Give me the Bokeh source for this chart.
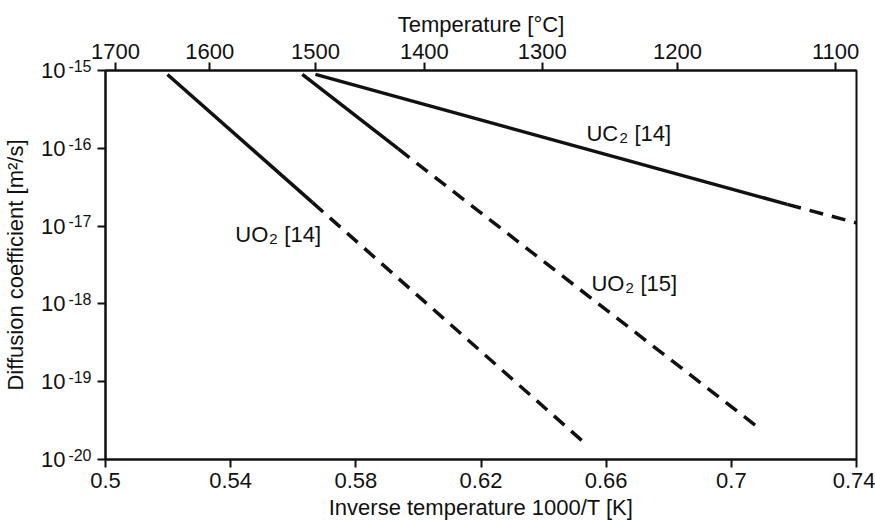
from bokeh.plotting import figure
from bokeh.models import Range1d, LinearAxis, LogAxis, FixedTicker, Label
from bokeh.embed import file_html
from bokeh.resources import INLINE

# ---------------- data ----------------
inv_T_ticks = [0.5, 0.54, 0.58, 0.62, 0.66, 0.7, 0.74]
inv_T_tick_labels = ["0.5", "0.54", "0.58", "0.62", "0.66", "0.7", "0.74"]

D_ticks = [1e-20, 1e-19, 1e-18, 1e-17, 1e-16, 1e-15]
D_tick_base = ["10", "10", "10", "10", "10", "10"]
D_tick_exponents = ["-20", "-19", "-18", "-17", "-16", "-15"]

temp_C_labels = ["1700", "1600", "1500", "1400", "1300", "1200", "1100"]
temp_tick_pos = [0.5032, 0.5333, 0.5671, 0.6019, 0.6396, 0.6828, 0.7333]

uo2_14_solid_x = [0.5198, 0.5662]
uo2_14_solid_D = [8.9e-16, 2.0e-17]
uo2_14_dash_x = [0.5662, 0.6523]
uo2_14_dash_D = [2.0e-17, 1.74e-20]

uo2_15_solid_x = [0.5629, 0.5936]
uo2_15_solid_D = [8.9e-16, 9.8e-17]
uo2_15_dash_x = [0.5936, 0.7096]
uo2_15_dash_D = [9.8e-17, 2.4e-20]

uc2_14_solid_x = [0.5671, 0.7179]
uc2_14_solid_D = [8.9e-16, 1.9e-17]
uc2_14_dash_x = [0.7179, 0.74]
uc2_14_dash_D = [1.9e-17, 1.1e-17]

# series labels: (formula, subscript, reference)
series_labels = [("UO", "2", "[14]"), ("UC", "2", "[14]"), ("UO", "2", "[15]")]

FONT = "Liberation Sans"
FS = "22px"
SUB_FS = "15px"
EXP_FS = "16px"
INK = "#111111"

p = figure(width=875, height=524, output_backend="svg", toolbar_location=None,
           x_range=Range1d(0.5, 0.74), y_range=Range1d(1e-20, 1e-15),
           y_axis_type="log",
           min_border_left=105, min_border_right=19, min_border_top=70, min_border_bottom=65)
p.grid.visible = False
p.outline_line_color = INK
p.outline_line_width = 2
p.background_fill_color = "white"
p.border_fill_color = "white"


def style_axis(ax, standoff=5, label_standoff=4, fs=FS):
    ax.axis_line_color = INK
    ax.axis_line_width = 2
    ax.major_tick_line_color = INK
    ax.major_tick_line_width = 2
    ax.major_tick_out = 8
    ax.major_tick_in = 0
    ax.minor_tick_line_color = None
    ax.major_label_text_font = FONT
    ax.major_label_text_font_size = fs
    ax.major_label_text_color = INK
    ax.axis_label_text_font = FONT
    ax.axis_label_text_font_size = FS
    ax.axis_label_text_font_style = "normal"
    ax.axis_label_text_color = INK
    ax.major_label_standoff = standoff
    ax.axis_label_standoff = label_standoff


xa = p.xaxis[0]
xa.ticker = FixedTicker(ticks=inv_T_ticks)
xa.major_label_overrides = dict(zip(inv_T_ticks, inv_T_tick_labels))
xa.axis_label = "Inverse temperature 1000/T [K]"
style_axis(xa, standoff=5, label_standoff=4)

# inner left axis: tick marks + the exponents (raised with an empty second line)
ya = p.yaxis[0]
ya.ticker = FixedTicker(ticks=D_ticks)
ya.major_label_overrides = {d: e + "\n " for d, e in zip(D_ticks, D_tick_exponents)}
ya.major_label_text_line_height = 0.5
style_axis(ya, standoff=6, label_standoff=0, fs=EXP_FS)

# outer left axis: the base "10" of each tick label + the axis title
ya2 = LogAxis(ticker=FixedTicker(ticks=D_ticks),
              major_label_overrides=dict(zip(D_ticks, D_tick_base)),
              axis_label="Diffusion coefficient [m²/s]")
style_axis(ya2, standoff=0, label_standoff=10)
ya2.axis_line_color = None
ya2.major_tick_line_color = None
ya2.major_tick_out = 0
p.add_layout(ya2, "left")

top = LinearAxis(ticker=FixedTicker(ticks=temp_tick_pos),
                 major_label_overrides=dict(zip(temp_tick_pos, temp_C_labels)),
                 axis_label="Temperature [°C]")
style_axis(top, standoff=4, label_standoff=4)
p.add_layout(top, "above")

LW = 3.5
DASH = "14 9"
for xs, ds in [(uo2_14_solid_x, uo2_14_solid_D), (uo2_15_solid_x, uo2_15_solid_D),
               (uc2_14_solid_x, uc2_14_solid_D)]:
    p.line(xs, ds, line_color=INK, line_width=LW)
for xs, ds in [(uo2_14_dash_x, uo2_14_dash_D), (uo2_15_dash_x, uo2_15_dash_D),
               (uc2_14_dash_x, uc2_14_dash_D)]:
    p.line(xs, ds, line_color=INK, line_width=LW, line_dash=DASH)

label_pos = [(0.5415, 10 ** -17.11), (0.6537, 10 ** -15.81), (0.6553, 10 ** -17.74)]
formula_width = {"UO": 33, "UC": 32}
for (x, y), (f, s, r) in zip(label_pos, series_labels):
    w = formula_width[f]
    p.add_layout(Label(x=x, y=y, text=f, text_font=FONT, text_font_size=FS,
                       text_color=INK, text_baseline="middle", text_align="left"))
    p.add_layout(Label(x=x, y=y, x_offset=w + 1, y_offset=-4, text=s, text_font=FONT,
                       text_font_size=SUB_FS, text_color=INK,
                       text_baseline="middle", text_align="left"))
    p.add_layout(Label(x=x, y=y, x_offset=w + 16, text=r, text_font=FONT, text_font_size=FS,
                       text_color=INK, text_baseline="middle", text_align="left"))

open("out.html", "w").write(file_html(p, INLINE))
